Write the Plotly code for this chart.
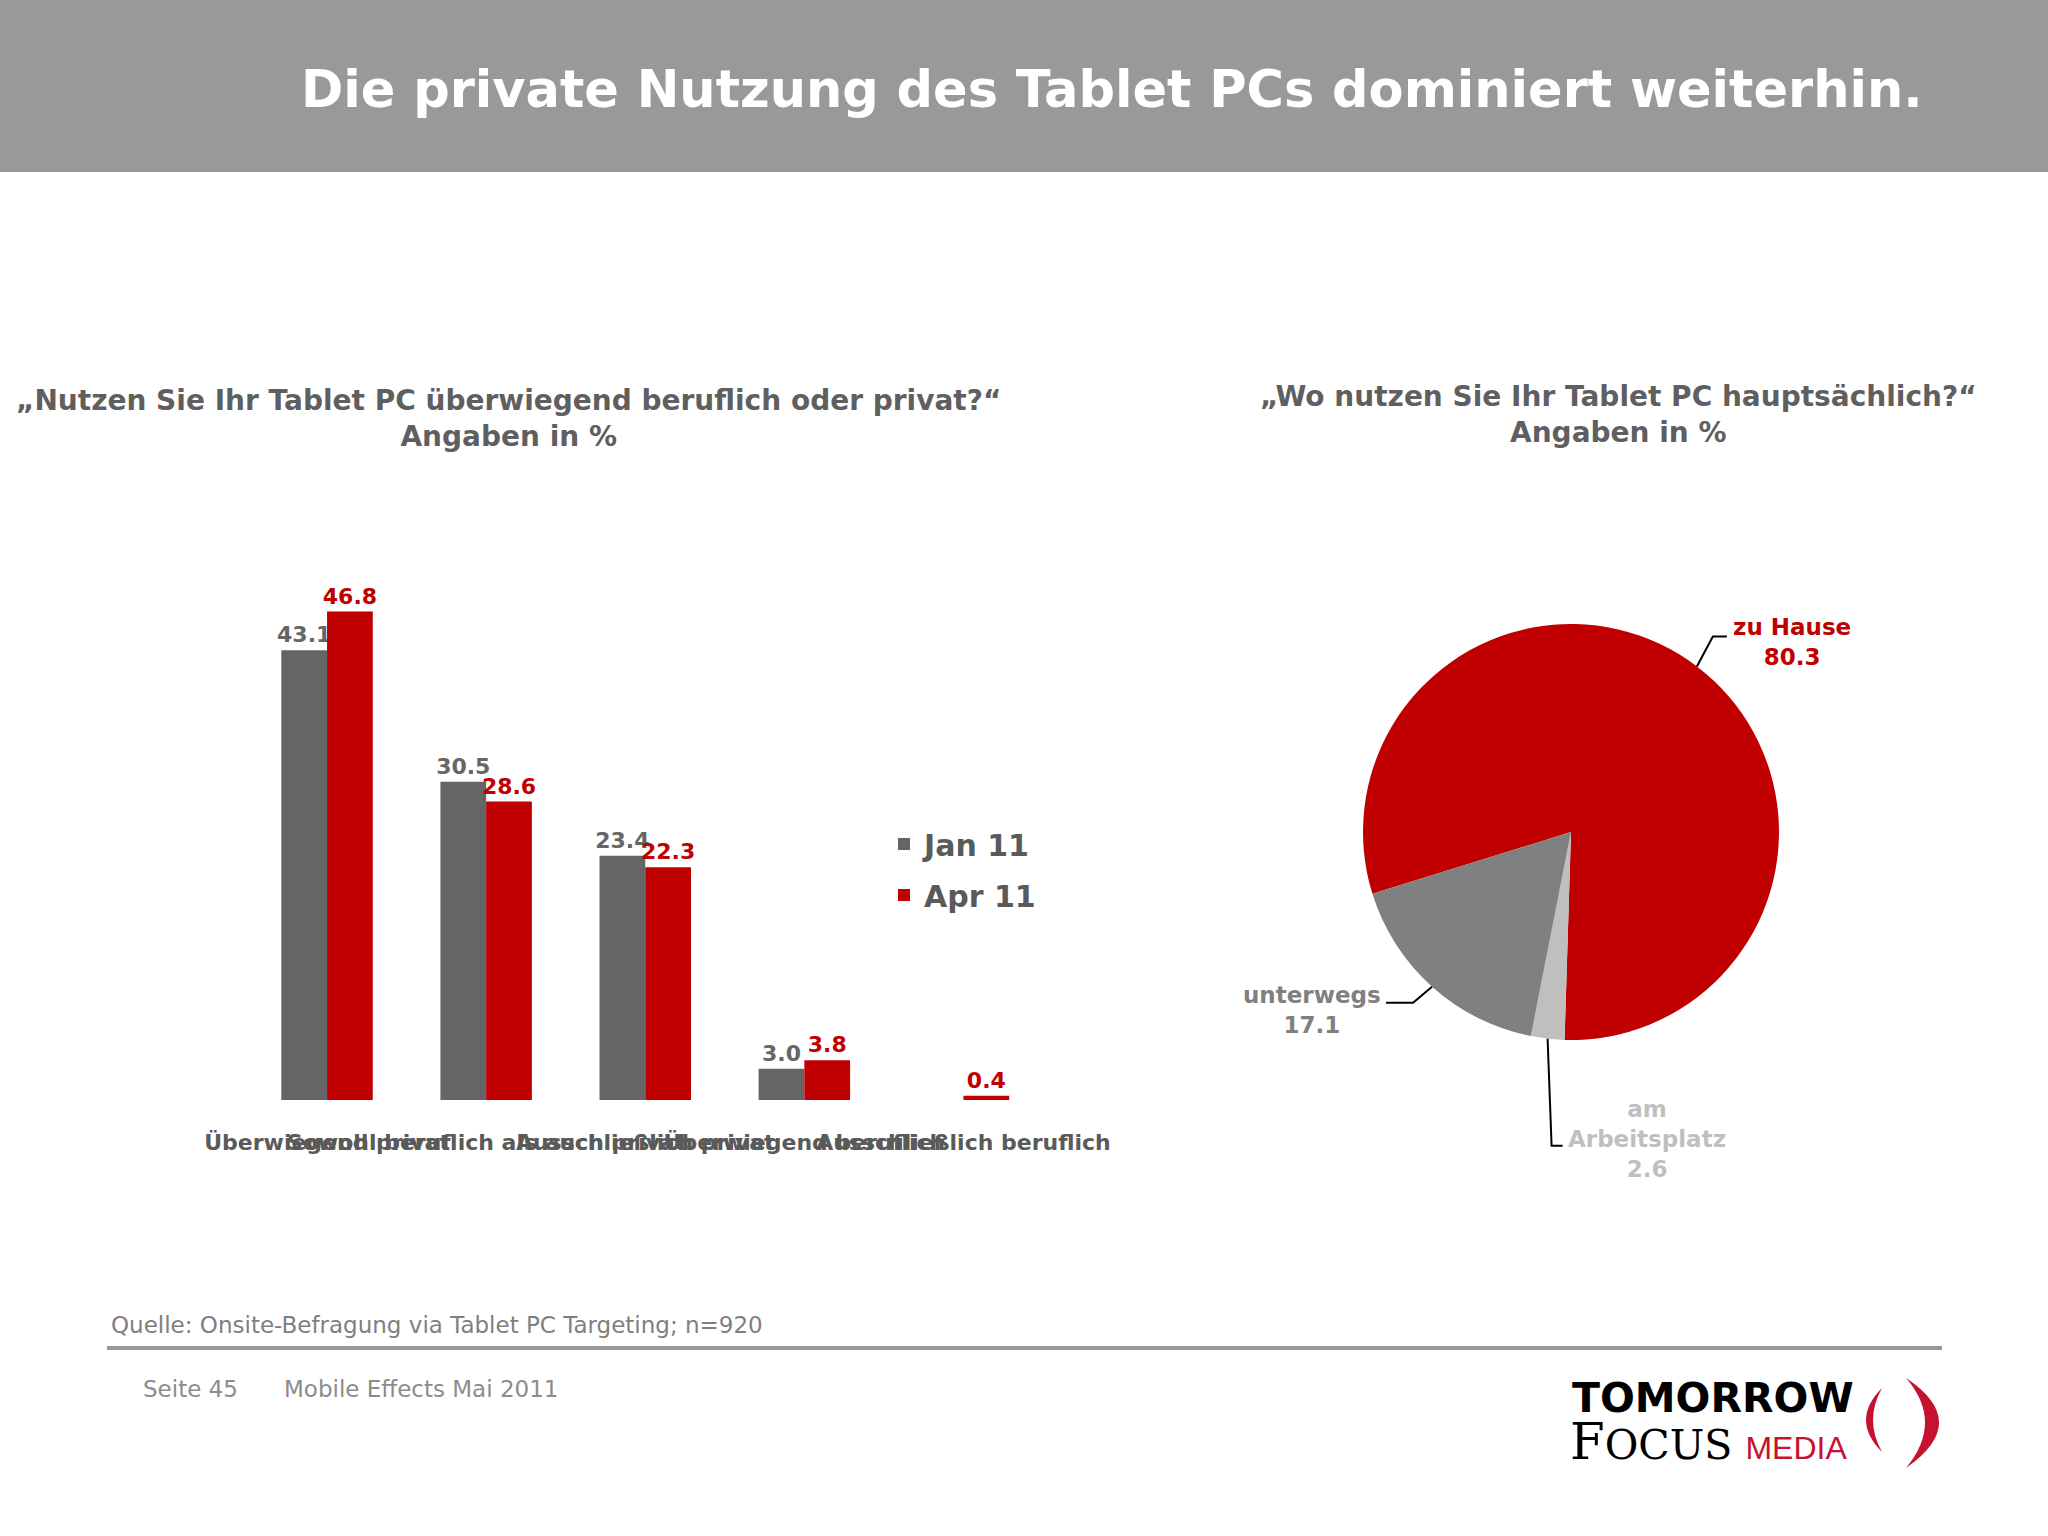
import math
import plotly.graph_objects as go

W, H = 2048, 1536

# ---------------- data ----------------
categories = ["Überwiegend privat", "Sowohl beruflich als auch privat",
              "Ausschließlich privat", "Überwiegend beruflich", "Ausschließlich beruflich"]
jan_values = [43.1, 30.5, 23.4, 3.0, None]
apr_values = [46.8, 28.6, 22.3, 3.8, 0.4]
series_names = ["Jan 11", "Apr 11"]

pie_labels = ["zu Hause", "am Arbeitsplatz", "unterwegs"]
pie_values = [80.3, 2.6, 17.1]

title_text = "Die private Nutzung des Tablet PCs dominiert weiterhin."
bar_title = "„Nutzen Sie Ihr Tablet PC überwiegend beruflich oder privat?“<br>Angaben in %"
pie_title = "„Wo nutzen Sie Ihr Tablet PC hauptsächlich?“<br>Angaben in %"
source_text = "Quelle: Onsite-Befragung via Tablet PC Targeting; n=920"
page_text = "Seite 45"
report_text = "Mobile Effects Mai 2011"

# ---------------- styles ----------------
RED = "#C00000"
BAR_GRAY = "#656466"
PIE_GRAY = "#808080"
PIE_LIGHT = "#BFBFBF"
TEXT_GRAY = "#5F5F5F"
FONT = "DejaVu Sans"


def px(x):
    return x / W


def py(y):
    return 1 - y / H


fig = go.Figure()

fig.add_trace(go.Bar(
    name=series_names[0], x=categories, y=jan_values,
    marker=dict(color=BAR_GRAY, line=dict(width=0)),
    texttemplate="%{y:.1f}", textposition="outside", cliponaxis=False,
    constraintext="none",
    textfont=dict(family=FONT, size=22, color="#666666", weight="bold"),
    legendgroup="a", xaxis="x", yaxis="y",
))
fig.add_trace(go.Bar(
    name=series_names[1], x=categories, y=apr_values,
    marker=dict(color=RED, line=dict(width=0)),
    texttemplate="%{y:.1f}", textposition="outside", cliponaxis=False,
    constraintext="none",
    textfont=dict(family=FONT, size=22, color=RED, weight="bold"),
    legendgroup="b", xaxis="x", yaxis="y",
))

# pie geometry (pixels)
pcx, pcy, pr = 1571, 832, 208
rotation = 252.7

fig.add_trace(go.Pie(
    labels=pie_labels, values=pie_values, sort=False, direction="clockwise",
    rotation=rotation - 360, automargin=False,
    marker=dict(colors=[RED, PIE_LIGHT, PIE_GRAY], line=dict(width=0)),
    textinfo="none", hoverinfo="label+value", showlegend=False,
    domain=dict(x=[px(pcx - pr), px(pcx + pr)], y=[py(pcy + pr), py(pcy - pr)]),
))

shapes = []
annotations = []

# banner
shapes.append(dict(type="rect", xref="paper", yref="paper", x0=0, x1=1,
                   y0=py(172), y1=1, fillcolor="#999999", line=dict(width=0), layer="below"))
annotations.append(dict(text=title_text, xref="paper", yref="paper", x=px(1112), y=py(89),
                        xanchor="center", yanchor="middle", showarrow=False,
                        font=dict(family=FONT, size=51, color="white", weight="bold")))

# subtitles
annotations.append(dict(text=bar_title, xref="paper", yref="paper", x=px(508), y=py(418),
                        xanchor="center", yanchor="middle", showarrow=False, align="center",
                        font=dict(family=FONT, size=28, color=TEXT_GRAY, weight="bold")))
annotations.append(dict(text=pie_title, xref="paper", yref="paper", x=px(1618), y=py(414),
                        xanchor="center", yanchor="middle", showarrow=False, align="center",
                        font=dict(family=FONT, size=28, color=TEXT_GRAY, weight="bold")))

# pie labels with leader lines, positioned from slice mid-angles
label_colors = [RED, PIE_LIGHT, PIE_GRAY]
label_lines = {"am Arbeitsplatz": "am<br>Arbeitsplatz"}
leader = [
    dict(elbow=(16, -30), end=14, text=(65, 6)),     # zu Hause
    dict(elbow=(4, 107), end=11, text=(84, -7)),     # am Arbeitsplatz
    dict(elbow=(-19, 16), end=-27, text=(-74, 7)),   # unterwegs
]
total = sum(pie_values)
cum = 0.0
for i, v in enumerate(pie_values):
    mid = math.radians(rotation + 360 * (cum + v / 2) / total)
    cum += v
    ex, ey = pcx + pr * math.sin(mid), pcy - pr * math.cos(mid)
    bx, by = ex + leader[i]["elbow"][0], ey + leader[i]["elbow"][1]
    fx, fy = bx + leader[i]["end"], by
    path = f"M {px(ex)},{py(ey)} L {px(bx)},{py(by)} L {px(fx)},{py(fy)}"
    shapes.append(dict(type="path", xref="paper", yref="paper", path=path,
                       line=dict(color="black", width=2)))
    name = label_lines.get(pie_labels[i], pie_labels[i])
    annotations.append(dict(text=f"{name}<br>{v:.1f}", xref="paper", yref="paper",
                            x=px(fx + leader[i]["text"][0]), y=py(fy + leader[i]["text"][1]),
                            xanchor="center", yanchor="middle", showarrow=False, align="center",
                            font=dict(family=FONT, size=23, color=label_colors[i], weight="bold")))

# footer
annotations.append(dict(text=source_text, xref="paper", yref="paper", x=px(109), y=py(1325),
                        xanchor="left", yanchor="middle", showarrow=False,
                        font=dict(family=FONT, size=23, color="#7F7F7F")))
shapes.append(dict(type="line", xref="paper", yref="paper", x0=px(107), x1=px(1942),
                   y0=py(1348), y1=py(1348), line=dict(color="#999999", width=4)))
annotations.append(dict(text=page_text, xref="paper", yref="paper", x=px(141), y=py(1389),
                        xanchor="left", yanchor="middle", showarrow=False,
                        font=dict(family=FONT, size=23, color="#8C8C8C")))
annotations.append(dict(text=report_text, xref="paper", yref="paper", x=px(282), y=py(1389),
                        xanchor="left", yanchor="middle", showarrow=False,
                        font=dict(family=FONT, size=23, color="#8C8C8C")))

# logo
annotations.append(dict(text="TOMORROW", xref="paper", yref="paper", x=px(1570), y=py(1398),
                        xanchor="left", yanchor="middle", showarrow=False,
                        font=dict(family=FONT, size=41, color="black", weight="bold")))
annotations.append(dict(text="<span style='font-size:50px'>F</span>OCUS "
                             "<span style='font-family:Liberation Sans;color:#C4122F;font-size:32px'>MEDIA</span>",
                        xref="paper", yref="paper", x=px(1568), y=py(1442),
                        xanchor="left", yanchor="middle", showarrow=False,
                        font=dict(family="DejaVu Serif", size=41, color="black")))


def ppath(pts):
    out = []
    for cmd, coords in pts:
        s = " ".join(f"{px(x)},{py(y)}" for x, y in coords)
        out.append(f"{cmd} {s}")
    return " ".join(out) + " Z"


shapes.append(dict(type="path", xref="paper", yref="paper",
                   path=ppath([("M", [(1882, 1388)]), ("Q", [(1850, 1420), (1882, 1452)]),
                               ("Q", [(1864, 1420), (1882, 1388)])]),
                   fillcolor="#C4122F", line=dict(width=0)))
shapes.append(dict(type="path", xref="paper", yref="paper",
                   path=ppath([("M", [(1906, 1378)]), ("Q", [(1972, 1422), (1906, 1468)]),
                               ("Q", [(1944, 1422), (1906, 1378)])]),
                   fillcolor="#C4122F", line=dict(width=0)))

fig.update_layout(
    width=W, height=H, margin=dict(l=0, r=0, t=0, b=0, pad=0, autoexpand=False),
    paper_bgcolor="white", plot_bgcolor="white",
    barmode="group", bargap=0.425, bargroupgap=0,
    xaxis=dict(domain=[px(247.5), px(1043)], range=[-0.5, 4.5], type="category",
               showline=False, showgrid=False, zeroline=False, ticks="", automargin=False,
               tickangle=0, ticklabelstandoff=27, fixedrange=True,
               tickfont=dict(family=FONT, size=22, color="#5A5A5A", weight="bold")),
    yaxis=dict(domain=[py(1100), py(526)], range=[0, 55], visible=False, automargin=False,
               showgrid=False, zeroline=False, fixedrange=True),
    legend=dict(x=px(884), y=py(818), xanchor="left", yanchor="top",
                font=dict(family=FONT, size=30, color="#5A5A5A", weight="bold"),
                tracegroupgap=9, bgcolor="rgba(0,0,0,0)"),
    shapes=shapes, annotations=annotations,
    font=dict(family=FONT),
)

fig.write_html("out.html", config={"displayModeBar": False},
               post_script="document.body.style.margin='0px';")
